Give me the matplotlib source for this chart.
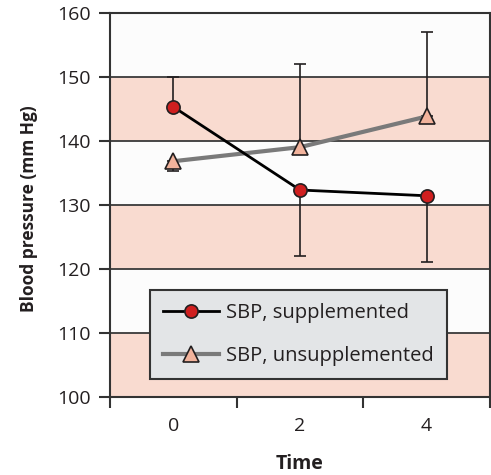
import matplotlib
matplotlib.use("Agg")
from matplotlib import pyplot
import numpy as np

# time points (weeks) and systolic blood pressure, mm Hg
times = ["0", "2", "4"]
sbp_supp = [145.3, 132.3, 131.4]
sbp_supp_lo = [145.3, 122.0, 121.0]
sbp_supp_hi = [150.0, 132.3, 131.4]
sbp_unsupp = [136.8, 139.0, 143.8]
sbp_unsupp_lo = [135.2, 139.0, 143.8]
sbp_unsupp_hi = [136.8, 152.0, 157.0]

yticks = [100, 110, 120, 130, 140, 150, 160]

pyplot.rcParams["font.family"] = ["Open Sans", "DejaVu Sans"]
ink = "#231f20"
pink = "#f9dbd0"

fig = pyplot.figure(figsize=(4.91, 4.75), dpi=100)
ax = fig.add_axes([0.224, 0.165, 0.774, 0.808])

x = np.arange(len(times))
ax.set_xlim(-0.5, len(times) - 0.5)
ax.set_ylim(100, 160)

# alternating bands
for lo in yticks[:-1]:
    col = pink if (lo // 10) % 2 == 0 else "#fcfcfc"
    ax.axhspan(lo, lo + 10, color=col, zorder=0, lw=0)
for yv in yticks[1:-1]:
    ax.axhline(yv, color="#3a3a3a", lw=1.3, zorder=1)

def bars(means, lo, hi):
    m = np.array(means)
    err = [m - np.array(lo), np.array(hi) - m]
    ax.errorbar(x, m, yerr=err, fmt="none", ecolor=ink, elinewidth=1.2,
                capsize=4, capthick=1.2, zorder=2)

bars(sbp_supp, sbp_supp_lo, sbp_supp_hi)
bars(sbp_unsupp, sbp_unsupp_lo, sbp_unsupp_hi)

ax.plot(x, sbp_unsupp, color="#7a7a7a", lw=3, marker="^", ms=11,
        mfc="#f2b39c", mec=ink, mew=1.2, zorder=3,
        label="SBP, unsupplemented")
ax.plot(x, sbp_supp, color="black", lw=2, marker="o", ms=9.5,
        mfc="#d01f1f", mec=ink, mew=1.2, zorder=4,
        label="SBP, supplemented")

h, l = ax.get_legend_handles_labels()
leg = ax.legend(h[::-1], l[::-1], loc="lower left", bbox_to_anchor=(0.105, 0.046),
                borderaxespad=0, fancybox=False, framealpha=1,
                facecolor="#e3e5e7", edgecolor="#333333", fontsize=14.5,
                handlelength=2.8, handletextpad=0.35, labelspacing=1.15,
                borderpad=0.65, labelcolor=ink)
leg.get_frame().set_linewidth(1.5)
leg.set_zorder(5)

ax.set_xticks(x)
ax.set_xticklabels(times)
ax.set_xticks(np.arange(-0.5, len(times), 1.0), minor=True)
ax.tick_params(axis="x", which="major", length=0, pad=15, labelsize=14, colors=ink)
ax.tick_params(axis="x", which="minor", length=8, width=1.5, color="#333333")
ax.set_yticks(yticks)
ax.tick_params(axis="y", length=8, width=1.5, color="#333333", labelsize=14,
               labelcolor=ink, pad=6)

for sp in ax.spines.values():
    sp.set_color("#333333")
    sp.set_linewidth(1.5)

ax.set_xlabel("Time", fontsize=14, fontweight="bold", color=ink, labelpad=13)
ax.set_ylabel("Blood pressure (mm Hg)", fontsize=12.5, fontweight="bold",
              color=ink)
ax.yaxis.set_label_coords(-0.19, 0.49)

fig.savefig("out.png", dpi=100)
